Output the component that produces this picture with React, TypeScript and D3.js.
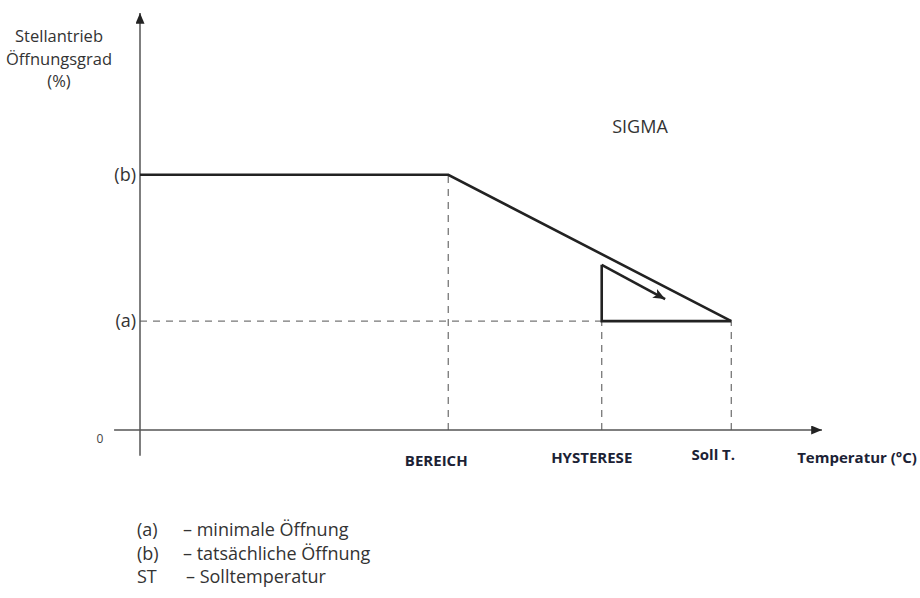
import React, { createRef } from 'react';
import { select, scaleLinear, line, Selection } from 'd3';

// x: temperature in chart units, y: opening in % of axis height
const curveX = [0, 45.2, 86.7];
const curveY = [61.2, 61.2, 26.1];

// hysteresis triangle: arrow end, top corner, bottom corner, set point
const hystX = [77.0, 67.7, 67.7, 86.7];
const hystY = [31.4, 39.6, 26.1, 26.1];

const xTickLabels = ['BEREICH', 'HYSTERESE', 'Soll T.'];
const xTickValues = [45.2, 67.7, 86.7];
const xTickTops = [61.2, 26.1, 26.1];

const yTickLabels = ['(b)', '(a)'];
const yTickValues = [61.2, 26.1];

const yTitle = ['Stellantrieb', 'Öffnungsgrad', '(%)'];
const xTitle = 'Temperatur (°C)';
const curveName = 'SIGMA';

const legendKeys = ['(a)', '(b)', 'ST'];
const legendTexts = ['– minimale Öffnung', '– tatsächliche Öffnung', '– Solltemperatur'];

const WIDTH = 920;
const HEIGHT = 598;
const FONT = '"Open Sans", "Noto Sans", sans-serif';

const svgRef = createRef<SVGSVGElement>();

export default class App extends React.Component {
  private svg: Selection<SVGSVGElement | null, unknown, null, undefined>;

  componentDidMount(): void {
    this.svg = select(svgRef.current);
    this.svg.selectAll('*').remove();
    this.draw();
  }

  draw(): void {
    const svg = this.svg;
    const x = scaleLinear().domain([0, 100]).range([140, 822]);
    const y = scaleLinear().domain([0, 100]).range([430, 13]);

    const defs = svg.append('defs');
    defs
      .append('marker')
      .attr('id', 'axis-arrow')
      .attr('viewBox', '0 0 12 10')
      .attr('refX', 12)
      .attr('refY', 5)
      .attr('markerWidth', 12)
      .attr('markerHeight', 9)
      .attr('markerUnits', 'userSpaceOnUse')
      .attr('orient', 'auto')
      .append('path')
      .attr('d', 'M0,0 L12,5 L0,10 Z')
      .attr('fill', '#222');
    defs
      .append('marker')
      .attr('id', 'hyst-arrow')
      .attr('viewBox', '0 0 12 10')
      .attr('refX', 12)
      .attr('refY', 5)
      .attr('markerWidth', 12)
      .attr('markerHeight', 10)
      .attr('markerUnits', 'userSpaceOnUse')
      .attr('orient', 'auto')
      .append('path')
      .attr('d', 'M0,0 L12,5 L0,10 L3,5 Z')
      .attr('fill', '#222');

    // dashed guides
    const guides = svg.append('g').attr('stroke', '#777').attr('stroke-width', 1.3).attr('stroke-dasharray', '7,6');
    xTickValues.forEach((v, i) => {
      guides
        .append('line')
        .attr('x1', x(v))
        .attr('x2', x(v))
        .attr('y1', y(0))
        .attr('y2', y(xTickTops[i]));
    });
    guides
      .append('line')
      .attr('x1', x(0))
      .attr('x2', x(hystX[1]))
      .attr('y1', y(yTickValues[1]))
      .attr('y2', y(yTickValues[1]));

    // axes
    svg
      .append('line')
      .attr('x1', x(-3.8))
      .attr('x2', x(100))
      .attr('y1', y(0))
      .attr('y2', y(0))
      .attr('stroke', '#555')
      .attr('stroke-width', 1.5)
      .attr('marker-end', 'url(#axis-arrow)');
    svg
      .append('line')
      .attr('x1', x(0))
      .attr('x2', x(0))
      .attr('y1', y(-6.2))
      .attr('y2', y(100))
      .attr('stroke', '#555')
      .attr('stroke-width', 1.5)
      .attr('marker-end', 'url(#axis-arrow)');

    // main curve
    const pts = curveX.map((v, i) => [x(v), y(curveY[i])] as [number, number]);
    svg
      .append('path')
      .attr('d', line()(pts))
      .attr('fill', 'none')
      .attr('stroke', '#222')
      .attr('stroke-width', 2.6);

    // hysteresis triangle with arrow
    const h = hystX.map((v, i) => [x(v), y(hystY[i])] as [number, number]);
    svg
      .append('path')
      .attr('d', line()(h.slice(1)))
      .attr('fill', 'none')
      .attr('stroke', '#222')
      .attr('stroke-width', 2.6);
    svg
      .append('path')
      .attr('d', line()([h[1], h[0]]))
      .attr('fill', 'none')
      .attr('stroke', '#222')
      .attr('stroke-width', 2.6)
      .attr('marker-end', 'url(#hyst-arrow)');

    // y labels
    yTickLabels.forEach((t, i) => {
      svg
        .append('text')
        .attr('x', x(0) - 4)
        .attr('y', y(yTickValues[i]))
        .attr('dy', '0.35em')
        .attr('text-anchor', 'end')
        .attr('font-family', FONT)
        .attr('font-size', 18)
        .attr('fill', '#333')
        .text(t);
    });
    svg
      .append('text')
      .attr('x', 100)
      .attr('y', 443)
      .attr('text-anchor', 'middle')
      .attr('font-family', FONT)
      .attr('font-size', 12)
      .attr('fill', '#444')
      .text('0');

    yTitle.forEach((t, i) => {
      svg
        .append('text')
        .attr('x', 59)
        .attr('y', 42 + i * 22.5)
        .attr('text-anchor', 'middle')
        .attr('font-family', FONT)
        .attr('font-size', 16.5)
        .attr('fill', '#333')
        .text(t);
    });

    svg
      .append('text')
      .attr('x', 640)
      .attr('y', 133)
      .attr('text-anchor', 'middle')
      .attr('font-family', FONT)
      .attr('font-size', 18)
      .attr('fill', '#333')
      .text(curveName);

    // x labels
    const xLabelPos = [
      { dx: -12, y: 466 },
      { dx: -10, y: 463 },
      { dx: -18, y: 460 },
    ];
    xTickLabels.forEach((t, i) => {
      svg
        .append('text')
        .attr('x', x(xTickValues[i]) + xLabelPos[i].dx)
        .attr('y', xLabelPos[i].y)
        .attr('text-anchor', 'middle')
        .attr('font-family', FONT)
        .attr('font-size', 15)
        .attr('font-weight', 700)
        .attr('fill', '#1c2235')
        .text(t);
    });
    svg
      .append('text')
      .attr('x', 857)
      .attr('y', 463)
      .attr('text-anchor', 'middle')
      .attr('font-family', FONT)
      .attr('font-size', 15)
      .attr('font-weight', 700)
      .attr('fill', '#1c2235')
      .text(xTitle);

    // legend
    legendKeys.forEach((k, i) => {
      const g = svg.append('g').attr('transform', `translate(0, ${536 + i * 23.5})`);
      g.append('text')
        .attr('x', 137)
        .attr('font-family', FONT)
        .attr('font-size', 18)
        .attr('fill', '#333')
        .text(k);
      g.append('text')
        .attr('x', i === 2 ? 186 : 183)
        .attr('font-family', FONT)
        .attr('font-size', 18)
        .attr('fill', '#333')
        .text(legendTexts[i]);
    });
  }

  render(): JSX.Element {
    return (
      <svg
        ref={svgRef}
        width={WIDTH}
        height={HEIGHT}
        style={{ position: 'absolute', left: 0, top: 0, background: '#fff' }}
      />
    );
  }
}
